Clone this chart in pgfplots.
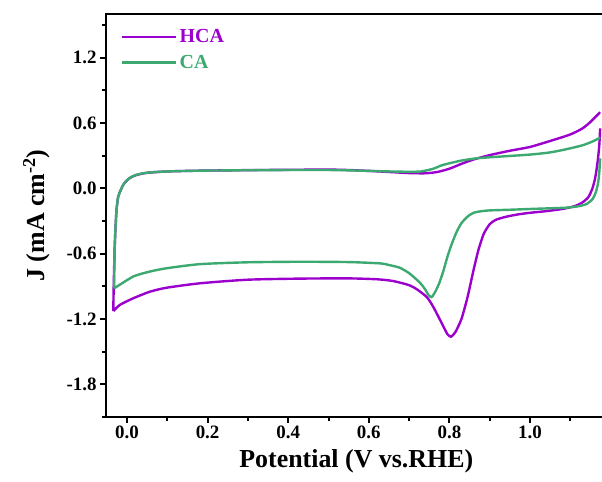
\documentclass[border=0pt]{standalone}
\usepackage{pgfplots}
\pgfplotsset{compat=1.18}
\usepackage{fontspec}
\setmainfont{Liberation Serif}
\definecolor{hcapurple}{RGB}{155,0,205}
\definecolor{cagreen}{RGB}{60,170,112}
\begin{document}
\begin{tikzpicture}
\begin{axis}[
  scale only axis,
  width=500.5bp, height=402.56bp,
  xmin=-0.052, xmax=1.19, ymin=-2.1, ymax=1.6,
  xtick={0,0.2,...,1.0},
  minor xtick={0.1,0.3,...,1.15},
  ytick={-1.8,-1.2,...,1.3},
  minor ytick={-2.1,-1.5,...,1.6},
  tick pos=left,
  tick align=outside,
  major tick length=6bp,
  minor tick length=4bp,
  every tick/.style={black, line width=2bp},
  axis line style={line width=2.4bp},
  /pgf/number format/assume math mode=true,
  /pgf/number format/fixed, /pgf/number format/fixed zerofill, /pgf/number format/precision=1,
  ticklabel style={font=\bfseries\fontsize{19}{19}\selectfont},
  xlabel={Potential (V vs.RHE)},
  ylabel={J (mA cm\textsuperscript{-2})},
  label style={font=\bfseries\fontsize{26}{26}\selectfont},
  xlabel style={yshift=-4bp},
  ylabel style={yshift=10bp},
  legend style={draw=none, fill=none, at={(axis description cs:0,1)}, anchor=north west, xshift=12bp, yshift=-11bp, font=\bfseries\fontsize{20}{20}\selectfont, row sep=7bp},
  legend cell align=left,
  legend image code/.code={\draw[#1, line width=2.2bp] (0bp,0bp) -- (48bp,0bp); \path (0bp,0bp) -- (54bp,0bp);},
  unbounded coords=jump,
]
\addplot[hcapurple, line width=2.4bp, smooth, tension=0.4] coordinates {
(-0.034,-1.128) (-0.033,-0.90) (-0.031,-0.60) (-0.029,-0.40) (-0.026,-0.20) (-0.022,-0.08) (-0.016,-0.02) (-0.008,0.04) (0.005,0.09) (0.02,0.118) (0.04,0.137) (0.06,0.146) (0.10,0.155) (0.15,0.160) (0.20,0.163) (0.30,0.167) (0.40,0.170) (0.50,0.172) (0.55,0.168) (0.60,0.160) (0.65,0.150) (0.70,0.140) (0.74,0.138) (0.77,0.150) (0.80,0.180) (0.83,0.225) (0.86,0.265) (0.90,0.305) (0.95,0.345) (1.00,0.380) (1.05,0.435) (1.10,0.495) (1.13,0.55) (1.15,0.61) (1.174,0.70)
(nan,nan)
(1.174,0.55) (1.172,0.40) (1.168,0.25) (1.162,0.10) (1.155,0.00) (1.145,-0.08) (1.13,-0.13) (1.11,-0.165) (1.08,-0.19) (1.04,-0.21) (1.00,-0.225) (0.97,-0.24) (0.94,-0.262) (0.915,-0.29) (0.90,-0.33) (0.885,-0.42) (0.872,-0.567) (0.86,-0.75) (0.845,-1.00) (0.83,-1.20) (0.815,-1.32) (0.804,-1.364) (0.795,-1.34) (0.781,-1.24) (0.76,-1.09) (0.744,-1.00) (0.72,-0.93) (0.70,-0.89) (0.66,-0.852) (0.62,-0.836) (0.55,-0.828) (0.43,-0.83) (0.30,-0.84) (0.181,-0.873) (0.098,-0.914) (0.057,-0.95) (0.016,-1.01) (-0.017,-1.07) (-0.034,-1.128)
};
\addlegendentry{\textcolor{hcapurple}{HCA}}
\addplot[cagreen, line width=2.4bp, smooth, tension=0.4] coordinates {
(-0.032,-0.92) (-0.031,-0.60) (-0.029,-0.40) (-0.026,-0.20) (-0.022,-0.08) (-0.016,-0.02) (-0.008,0.04) (0.005,0.09) (0.02,0.12) (0.04,0.138) (0.06,0.147) (0.10,0.155) (0.15,0.160) (0.20,0.163) (0.30,0.166) (0.40,0.168) (0.50,0.168) (0.55,0.165) (0.60,0.160) (0.65,0.155) (0.70,0.152) (0.73,0.155) (0.76,0.18) (0.78,0.21) (0.80,0.23) (0.83,0.255) (0.868,0.276) (0.92,0.29) (1.00,0.31) (1.05,0.33) (1.091,0.36) (1.13,0.395) (1.155,0.43) (1.174,0.465)
(nan,nan)
(1.174,0.276) (1.172,0.15) (1.169,0.05) (1.163,-0.04) (1.155,-0.10) (1.14,-0.145) (1.12,-0.165) (1.09,-0.178) (1.04,-0.185) (1.00,-0.19) (0.95,-0.197) (0.90,-0.203) (0.88,-0.21) (0.86,-0.225) (0.845,-0.26) (0.83,-0.32) (0.818,-0.40) (0.805,-0.52) (0.795,-0.63) (0.785,-0.76) (0.775,-0.87) (0.765,-0.95) (0.756,-1.00) (0.748,-0.98) (0.74,-0.93) (0.73,-0.88) (0.719,-0.84) (0.70,-0.78) (0.677,-0.73) (0.65,-0.705) (0.628,-0.69) (0.55,-0.678) (0.43,-0.675) (0.30,-0.68) (0.181,-0.697) (0.098,-0.735) (0.057,-0.765) (0.016,-0.81) (-0.032,-0.92)
};
\addlegendentry{\textcolor{cagreen}{CA}}
\coordinate (bl) at (axis cs:-0.31514,-2.6903);
\coordinate (tr) at (axis cs:1.17866,1.7307);
\end{axis}
\pgfresetboundingbox
\path[use as bounding box] (bl) rectangle (tr);
\end{tikzpicture}
\end{document}
